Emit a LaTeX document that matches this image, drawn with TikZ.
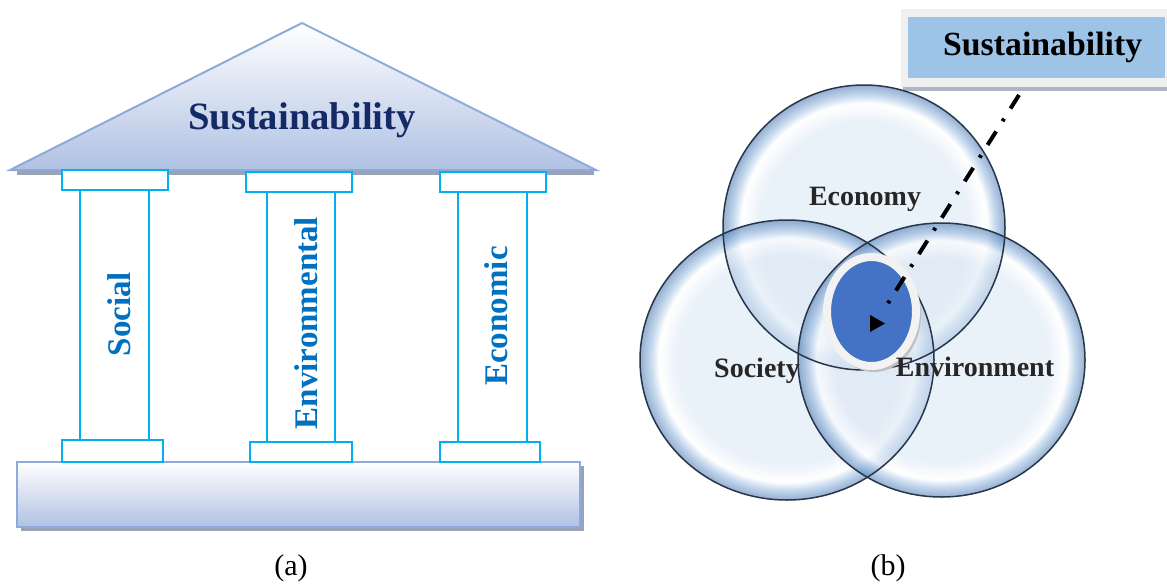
\documentclass[tikz,border=0pt]{standalone}
\usepackage{fontspec}
\setmainfont{Liberation Serif}
\usetikzlibrary{shapes.geometric}
\definecolor{roofL}{HTML}{8EAADB}
\definecolor{roofB}{HTML}{B0C1E3}
\definecolor{navyT}{HTML}{142A66}
\definecolor{cyanP}{HTML}{00B0F0}
\definecolor{blueT}{HTML}{0070C0}
\definecolor{shGray}{HTML}{9AA3B5}
\definecolor{frameG}{HTML}{F0F0F0}
\definecolor{boxB}{HTML}{9DC3E6}
\definecolor{blueE}{HTML}{4472C4}
\definecolor{ringW}{HTML}{F2F2F2}
\definecolor{bubC}{HTML}{DCE8F5}
\definecolor{bubHi}{HTML}{FFFFFF}
\definecolor{bubM}{HTML}{A3C2E4}
\definecolor{bubE}{HTML}{557FB5}
\definecolor{bubLine}{HTML}{27364A}
\pgfdeclareradialshading{bubble}{\pgfpoint{0bp}{0bp}}{color(0bp)=(bubC); color(18.5bp)=(bubC); color(21.8bp)=(bubHi); color(23.2bp)=(bubM); color(25bp)=(bubE); color(50bp)=(bubE)}
\tikzset{
  pillar/.style={draw=cyanP, line width=2pt, fill=white},
  pillartext/.style={rotate=90, text=blueT, font=\fontsize{33}{36}\selectfont\bfseries},
  bubblestyle/.style={shading=bubble, fill opacity=0.62},
  bubbleline/.style={draw=bubLine, line width=1.5pt},
  bubtext/.style={anchor=base, font=\fontsize{28}{30}\selectfont\bfseries, text=black!85},
  caption/.style={font=\fontsize{30}{32}\selectfont},
  dashdotline/.style={line width=4pt, dash pattern=on 16pt off 12pt on 3pt off 12pt}
}
\begin{document}
\begin{tikzpicture}[x=1pt,y=-1pt]
\useasboundingbox (0,0) rectangle (1167,584);
% ---------- (a) temple ----------
\fill[shGray] (17,170) rectangle (594,175);
\shadedraw[top color=white, bottom color=roofB, draw=roofL, line width=2pt, line join=miter]
  (302,23) -- (596,170) -- (10,170) -- cycle;
\node (roofT) [anchor=base, text=navyT, font=\fontsize{38.7}{40}\selectfont\bfseries] at (302,129) {Sustainability};
% base
\fill[shGray] (21,466) rectangle (584,531);
\shadedraw[top color=white, bottom color=roofB, draw=roofL, line width=2pt] (17,462) rectangle (580,527);
% Social pillar
\draw[pillar] (80,190) rectangle (149,440);
\draw[pillar] (62,170) rectangle (168,190);
\draw[pillar] (62,440) rectangle (163,462);
\node (social) [pillartext] at (119,314) {Social};
% Environmental pillar
\draw[pillar] (267,192) rectangle (335,442);
\draw[pillar] (246,172) rectangle (352,192);
\draw[pillar] (250,442) rectangle (352,462);
\node (environmental) [pillartext] at (306,323) {Environmental};
% Economic pillar
\draw[pillar] (458,192) rectangle (527,442);
\draw[pillar] (440,172) rectangle (546,192);
\draw[pillar] (440,442) rectangle (540,462);
\node (economic) [pillartext] at (496,316) {Economic};
\node (capA) [caption] at (291,568) {(a)};
% ---------- (b) venn ----------
\fill[frameG] (901,9) rectangle (1167,87);
\fill[shGray!80] (903,87) rectangle (1167,91);
\node (sbox) [fill=boxB, minimum width=257pt, minimum height=61pt, inner sep=0pt, anchor=north west,
  font=\fontsize{33.8}{36}\selectfont\bfseries] at (908,17) {\hspace*{12pt}Sustainability};
% bubbles
\shade[bubblestyle] (864,227.5) ellipse [x radius=141, y radius=142.5];
\shade[bubblestyle] (787,360) ellipse [x radius=147, y radius=140];
\shade[bubblestyle] (941.5,360) ellipse [x radius=143.5, y radius=137];
\draw[bubbleline] (864,227.5) ellipse [x radius=141, y radius=142.5];
\draw[bubbleline] (787,360) ellipse [x radius=147, y radius=140];
\draw[bubbleline] (941.5,360) ellipse [x radius=143.5, y radius=137];
\node (economy) [bubtext] at (865,205) {Economy};
\node (society) [bubtext] at (757,377) {Society};
% core ellipse
\fill[gray!50] (874,315) ellipse [x radius=47, y radius=57];
\node (core) [ellipse, draw=ringW, line width=8pt, fill=blueE, minimum width=89pt, minimum height=109pt, inner sep=0pt] at (871.5,311.5) {};
\node (environment) [bubtext] at (975,376) {Environment};
% arrow
\coordinate (aStart) at (1019,95);
\coordinate (aEnd) at (885,308);
\draw[dashdotline] (aStart) -- (aEnd);
\fill (870,315) -- (870,332) -- (885,323.5) -- cycle;
\node (capB) [caption] at (888,568) {(b)};
\end{tikzpicture}
\end{document}
